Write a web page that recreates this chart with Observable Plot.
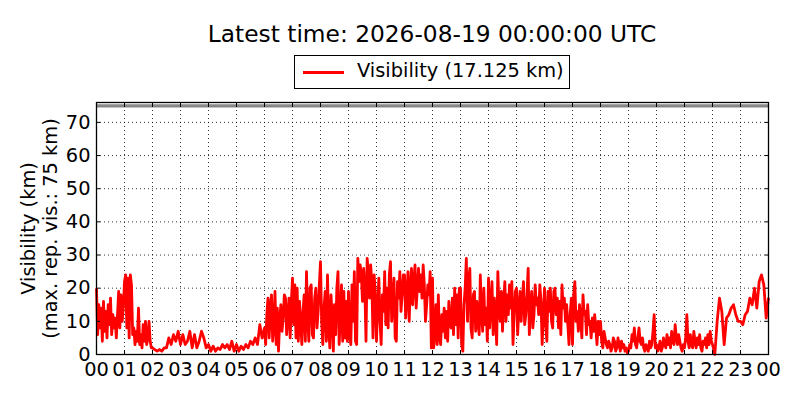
<!DOCTYPE html>
<html><head><meta charset="utf-8">
<script src="https://cdn.jsdelivr.net/npm/d3@7"></script>
<script src="https://cdn.jsdelivr.net/npm/@observablehq/plot@0.6"></script>
<style>
body{margin:0;background:#fff;font-family:"DejaVu Sans",sans-serif;color:#000;}
#wrap{position:relative;width:800px;height:400px;overflow:hidden;background:#fff;}
#title{position:absolute;left:0;width:864px;top:20px;text-align:center;font-size:23.3px;line-height:28px;white-space:nowrap;}
#legend{position:absolute;left:294px;top:55px;width:274px;height:32px;border:1px solid #000;}
#legend .sw{position:absolute;left:8px;top:15px;width:41px;height:3px;background:red;}
#legend .lb{position:absolute;left:62px;top:3px;font-size:19.4px;line-height:24px;white-space:nowrap;}
#chart{position:absolute;left:0;top:95px;}
</style></head>
<body>
<div id="wrap">
  <div id="title"></div>
  <div id="legend"><div class="sw"></div><div class="lb"></div></div>
  <div id="chart"></div>
</div>
<script>
const titleText = "Latest time: 2026-08-19 00:00:00 UTC";
const legendText = "Visibility (17.125 km)";
const yLabel1 = "Visibility (km)";
const yLabel2 = "(max. rep. vis.: 75 km)";
const maxRepVis = 75;
const hourLabels = ["00","01","02","03","04","05","06","07","08","09","10","11","12","13","14","15","16","17","18","19","20","21","22","23","00"];
const yTicks = [0, 10, 20, 30, 40, 50, 60, 70];

// visibility (km) readings per hour, evenly spaced within each hour
const v00 = [20, 6, 15, 8, 14, 4, 16, 7, 13, 5, 15, 9, 17, 6, 12, 8, 11, 5, 12, 19, 8, 18, 10, 14];
const v01 = [22, 24, 8, 23, 5, 24, 21, 6, 8, 3, 7, 4, 14, 3, 6, 2, 9, 4, 10, 3, 5, 10, 4, 2];
const v02 = [2, 1.5, 1, 1.5, 1, 2, 2, 5, 3, 6, 4, 7];
const v03 = [3, 6, 3, 4, 7, 2, 6, 2, 4, 7, 5, 2];
const v04 = [3, 1, 2.5, 1, 2, 1.5, 3, 2, 3, 1.5, 4, 1];
const v05 = [3, 1, 2.5, 1.5, 3, 2, 4, 3, 5, 3, 9, 5];
const v06 = [8, 3, 12, 17, 5, 14, 18, 4, 9, 19, 3, 14, 1, 10, 15, 7, 11, 18, 17, 6, 12, 17, 5, 16];
const v07 = [23, 9, 21, 5, 20, 4, 16, 10, 3, 13, 18, 4, 25, 11, 4, 20, 21, 6, 5, 17, 20, 8, 13, 21];
const v08 = [28, 10, 3, 14, 19, 4, 24, 8, 2, 18, 12, 1, 15, 6, 20, 25, 3, 11, 21, 4, 19, 5, 16, 4];
const v09 = [19, 6, 3, 21, 10, 25, 4, 3, 29, 22, 27, 24, 16, 26, 20, 4, 29, 25, 17, 27, 22, 5, 24, 18];
const v10 = [4, 15, 23, 10, 3, 18, 13, 25, 9, 20, 8, 24, 28, 10, 16, 23, 5, 4, 22, 17, 25, 13, 18, 24];
const v11 = [24, 11, 18, 25, 10, 20, 26, 15, 22, 27, 14, 20, 26, 19, 24, 17, 27, 21, 10, 15, 21, 18, 25, 2];
const v12 = [23, 2, 6, 15, 3, 18, 5, 3, 12, 7, 14, 5, 13, 4, 16, 9, 8, 17, 6, 20, 9, 18, 5, 20];
const v13 = [20, 3, 1, 15, 20, 29, 10, 22, 26, 8, 5, 18, 19, 7, 16, 10, 6, 24, 12, 7, 20, 9, 14, 4];
const v14 = [23, 8, 15, 22, 6, 17, 11, 3, 25, 14, 10, 19, 7, 16, 22, 10, 18, 12, 21, 14, 22, 3, 12, 19];
const v15 = [20, 6, 14, 19, 10, 17, 22, 9, 12, 18, 26, 6, 14, 19, 8, 12, 21, 15, 17, 12, 21, 16, 3, 12];
const v16 = [20, 9, 4, 19, 13, 20, 10, 8, 19, 20, 12, 17, 8, 16, 6, 21, 14, 17, 10, 15, 9, 3, 12, 17];
const v17 = [3, 18, 22, 10, 13, 7, 15, 11, 5, 18, 12, 13, 6, 15, 9, 10, 5, 11, 7, 12, 8, 3, 10, 6];
const v18 = [10, 4, 2, 7, 5, 3, 2, 4, 3, 1, 2, 5, 4, 1, 2, 5, 3, 1, 4, 2, 3, 1, 2, 0.5];
const v19 = [1, 3, 2, 6, 4, 8, 3, 2, 5, 8, 4, 3, 5, 2, 1, 3, 2, 1, 4, 2, 3, 7, 12, 2];
const v20 = [3, 1, 2, 4, 1, 2, 5, 3, 2, 6, 3, 5, 2, 7, 4, 3, 9, 5, 3, 6, 4, 2, 1, 3];
const v21 = [2, 5, 12, 4, 2, 6, 3, 2, 7, 4, 2, 5, 3, 6, 2, 1, 4, 3, 5, 2, 6, 3, 7, 4];
const v22 = [3, 0, 10, 17, 13, 3, 11, 12, 14, 15, 12, 10];
const v23 = [10, 9, 12, 13, 17, 15, 20, 14, 22, 24, 21, 11];
const lastValue = 17.125;

const byHour = [v00,v01,v02,v03,v04,v05,v06,v07,v08,v09,v10,v11,v12,v13,v14,v15,v16,v17,v18,v19,v20,v21,v22,v23];
const data = byHour.flatMap((arr, h) => arr.map((v, j) => ({t: h + j / arr.length, v})));
data.push({t: 24, v: lastValue});
const hourTicks = hourLabels.map((d, i) => i);
const fmtHour = (h) => hourLabels[h];

document.getElementById("title").textContent = titleText;
document.querySelector("#legend .lb").textContent = legendText;

const gridStyle = {stroke: "black", strokeOpacity: 1, strokeWidth: 0.8, strokeDasharray: "1,3"};
const fs = 19.4;

const chart = Plot.plot({
  width: 800,
  height: 305,
  marginTop: 7,
  marginBottom: 46,
  marginLeft: 96,
  marginRight: 32,
  style: {fontFamily: "DejaVu Sans, sans-serif", fontSize: fs + "px", background: "white", color: "black", overflow: "visible"},
  x: {type: "linear", domain: [0, 24]},
  y: {domain: [0, 76]},
  marks: [
    Plot.gridX(hourTicks.slice(1, -1), gridStyle),
    Plot.gridY(yTicks.slice(1), gridStyle),
    Plot.ruleY([maxRepVis], {stroke: "#888888", strokeWidth: 3.2}),
    Plot.line(data, {x: "t", y: "v", stroke: "red", strokeWidth: 2.8, strokeLinejoin: "round", strokeLinecap: "butt"}),
    Plot.frame({stroke: "black", strokeWidth: 1.3}),
    Plot.axisX(hourTicks, {anchor: "bottom", tickSize: -4, tickPadding: 12, tickFormat: fmtHour, label: null, fontSize: fs}),
    Plot.axisX(hourTicks, {anchor: "top", tickSize: -4, tickFormat: () => "", label: null}),
    Plot.axisY(yTicks, {anchor: "left", tickSize: -4, tickPadding: 10, label: null, fontSize: fs}),
    Plot.axisY(yTicks, {anchor: "right", tickSize: -4, tickFormat: () => "", label: null}),
    Plot.text([yLabel1], {frameAnchor: "left", dx: -68, rotate: -90, textAnchor: "middle", fontSize: fs}),
    Plot.text([yLabel2], {frameAnchor: "left", dx: -46, rotate: -90, textAnchor: "middle", fontSize: fs})
  ]
});
document.getElementById("chart").appendChild(chart);
</script>
</body></html>
